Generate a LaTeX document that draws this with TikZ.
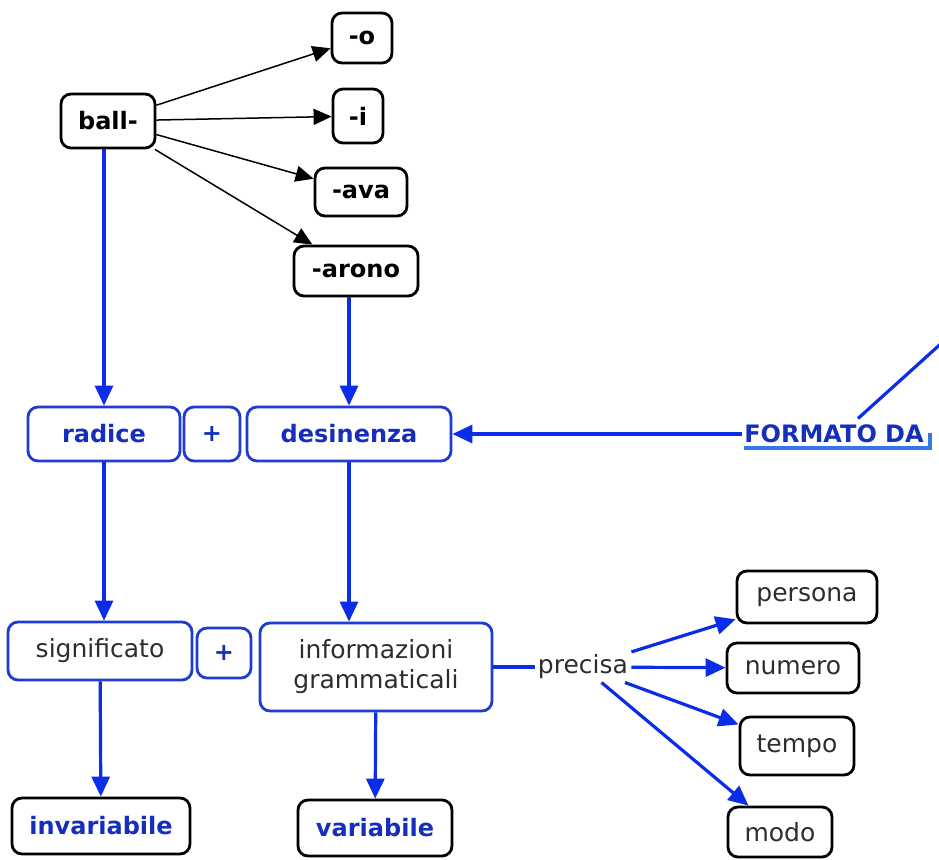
\documentclass[tikz,border=0pt]{standalone}
\usepackage{fontspec}
\setmainfont{DejaVu Sans}
\usepackage{xcolor}
\usetikzlibrary{arrows.meta}

\definecolor{boxblue}{RGB}{30,60,210}
\definecolor{arrowblue}{RGB}{12,45,232}
\definecolor{textblue}{RGB}{22,46,190}
\definecolor{shadeblue}{RGB}{50,120,230}
\definecolor{textgrey}{RGB}{45,45,45}

\tikzset{
  box/.style={draw, line width=1.4pt, rounded corners=5pt, inner sep=0pt, align=center},
  blackbox/.style={box, draw=black, text=black, font=\fontsize{12}{14}\selectfont\bfseries},
  bluebox/.style={box, draw=boxblue, text=textblue, font=\fontsize{12}{14}\selectfont\bfseries},
  infobox/.style={box, draw=boxblue, text=textgrey, font=\fontsize{12.5}{15}\selectfont},
  plainbox/.style={box, draw=black, text=textgrey, font=\fontsize{12.5}{15}\selectfont},
  resultbox/.style={box, draw=black, text=textblue, font=\fontsize{12}{14}\selectfont\bfseries},
  blackarrow/.style={-{Triangle[length=9pt,width=8pt]}, line width=0.75pt, black},
  bluearrow/.style={-{Triangle[length=10pt,width=9pt]}, line width=1.6pt, arrowblue},
  blueline/.style={line width=1.6pt, arrowblue}
}

\begin{document}
\begin{tikzpicture}[x=0.5pt,y=-0.5pt]
    \useasboundingbox (0,0) rectangle (939,859);

    % root and endings
    \node[blackbox, minimum width=47pt, minimum height=27pt] (ball) at (108,121) {ball-};
    \node[blackbox, minimum width=30pt, minimum height=25pt] (o) at (362,38) {-o};
    \node[blackbox, minimum width=25pt, minimum height=27pt] (i) at (358,116) {-i};
    \node[blackbox, minimum width=46pt, minimum height=24pt] (ava) at (361,192) {-ava};
    \node[blackbox, minimum width=62pt, minimum height=25pt] (arono) at (356,271) {-arono};

    \draw[blackarrow] (ball) -- (o);
    \draw[blackarrow] (ball) -- (i);
    \draw[blackarrow] (ball) -- (ava);
    \draw[blackarrow] (ball) -- (arono);

    % word parts
    \node[bluebox, minimum width=76pt, minimum height=27pt] (radice) at (104,434) {radice};
    \node[bluebox, minimum width=28pt, minimum height=27pt] (plusA) at (212,434) {+};
    \node[bluebox, minimum width=102pt, minimum height=27pt] (desinenza) at (349,434) {desinenza};

    \node[text=textblue, font=\fontsize{12}{14}\selectfont\bfseries, inner sep=1pt] (formato) at (834,434) {FORMATO DA};
    \draw[line width=2pt, shadeblue] ([xshift=1pt,yshift=-1.5pt]formato.south west) -- ([xshift=2pt,yshift=-1.5pt]formato.south east) -- ([xshift=2pt,yshift=6pt]formato.south east);
    \coordinate (offpage) at (945,340);
    \draw[blueline] ([xshift=12pt,yshift=2pt]formato.north) -- (offpage);

    \draw[bluearrow] (radice.north |- ball.south) -- (radice.north);
    \draw[bluearrow] (desinenza.north |- arono.south) -- (desinenza.north);
    \draw[bluearrow] (formato.west) -- (desinenza.east);

    % meaning and information
    \node[infobox, minimum width=92pt, minimum height=29pt] (significato) at (100,651) {significato};
    \node[bluebox, minimum width=27pt, minimum height=25pt] (plusB) at (224,653) {+};
    \node[infobox, minimum width=116pt, minimum height=44pt] (info) at (376,667) {informazioni\\grammaticali};

    \draw[bluearrow] (radice.south) -- (radice.south |- significato.north);
    \draw[bluearrow] (desinenza.south) -- (desinenza.south |- info.north);

    \node[resultbox, minimum width=89pt, minimum height=28pt] (invariabile) at (101,826) {invariabile};
    \node[resultbox, minimum width=77pt, minimum height=28pt] (variabile) at (375,828) {variabile};

    \draw[bluearrow] (significato) -- (invariabile);
    \draw[bluearrow] (info) -- (variabile);

    % what the ending tells
    \node[text=textgrey, font=\fontsize{12.5}{15}\selectfont, inner sep=1.5pt] (precisa) at (583,667) {precisa};
    \draw[blueline] (info.east |- precisa) -- (precisa.west);

    \node[plainbox, minimum width=70pt, minimum height=26pt] (persona) at (807,597) {persona};
    \node[plainbox, minimum width=66pt, minimum height=25pt] (numero) at (793,668) {numero};
    \node[plainbox, minimum width=57pt, minimum height=29pt] (tempo) at (797,746) {tempo};
    \node[plainbox, minimum width=52pt, minimum height=25pt] (modo) at (780,832) {modo};

    \draw[bluearrow] (precisa) -- (persona);
    \draw[bluearrow] (precisa) -- (numero);
    \draw[bluearrow] (precisa) -- (tempo);
    \draw[bluearrow] (precisa) -- (modo);
\end{tikzpicture}
\end{document}
